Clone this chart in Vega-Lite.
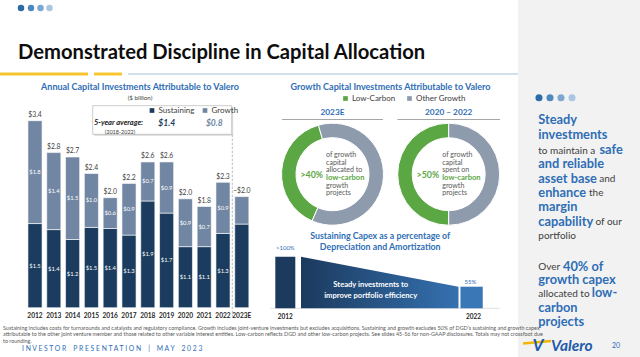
{
  "$schema": "https://vega.github.io/schema/vega-lite/v6.json",
  "width": 640,
  "height": 357,
  "padding": 0,
  "autosize": {"type": "none"},
  "background": "#FFFFFF",
  "config": {"font": "Lato", "view": {"stroke": null}},
  "datasets": {
    "capex": [
      {"year": "2012", "type": "Sustaining", "value": 1.53, "label": "$1.5"},
      {"year": "2012", "type": "Growth", "value": 1.87, "label": "$1.8", "total": "$3.4"},
      {"year": "2013", "type": "Sustaining", "value": 1.42, "label": "$1.4"},
      {"year": "2013", "type": "Growth", "value": 1.40, "label": "$1.4", "total": "$2.8"},
      {"year": "2014", "type": "Sustaining", "value": 1.24, "label": "$1.2"},
      {"year": "2014", "type": "Growth", "value": 1.50, "label": "$1.5", "total": "$2.7"},
      {"year": "2015", "type": "Sustaining", "value": 1.46, "label": "$1.5"},
      {"year": "2015", "type": "Growth", "value": 0.98, "label": "$1.0", "total": "$2.4"},
      {"year": "2016", "type": "Sustaining", "value": 1.44, "label": "$1.4"},
      {"year": "2016", "type": "Growth", "value": 0.56, "label": "$0.6", "total": "$2.0"},
      {"year": "2017", "type": "Sustaining", "value": 1.32, "label": "$1.3"},
      {"year": "2017", "type": "Growth", "value": 0.94, "label": "$0.9", "total": "$2.2"},
      {"year": "2018", "type": "Sustaining", "value": 1.94, "label": "$1.9"},
      {"year": "2018", "type": "Growth", "value": 0.71, "label": "$0.7", "total": "$2.6"},
      {"year": "2019", "type": "Sustaining", "value": 1.72, "label": "$1.7"},
      {"year": "2019", "type": "Growth", "value": 0.93, "label": "$0.9", "total": "$2.6"},
      {"year": "2020", "type": "Sustaining", "value": 1.11, "label": "$1.1"},
      {"year": "2020", "type": "Growth", "value": 0.87, "label": "$0.9", "total": "$2.0"},
      {"year": "2021", "type": "Sustaining", "value": 1.11, "label": "$1.1"},
      {"year": "2021", "type": "Growth", "value": 0.73, "label": "$0.7", "total": "$1.8"},
      {"year": "2022", "type": "Sustaining", "value": 1.35, "label": "$1.3"},
      {"year": "2022", "type": "Growth", "value": 0.93, "label": "$0.9", "total": "$2.3"},
      {"year": "2023E", "type": "Sustaining", "value": 1.52, "label": ""},
      {"year": "2023E", "type": "Growth", "value": 0.50, "label": "", "total": "~$2.0"}
    ],
    "growthShare": [
      {"period": "2023E", "segment": "Low-Carbon", "share": 39},
      {"period": "2023E", "segment": "Other Growth", "share": 61},
      {"period": "2020 – 2022", "segment": "Low-Carbon", "share": 50},
      {"period": "2020 – 2022", "segment": "Other Growth", "share": 50}
    ],
    "donutNotes": [
      {"period": "2023E", "pct": ">40%", "desc": "of growth\ncapital\nallocated to", "em": "low-carbon", "desc2": "growth\nprojects"},
      {"period": "2020 – 2022", "pct": ">50%", "desc": "of growth\ncapital\nspent on", "em": "low-carbon", "desc2": "growth\nprojects"}
    ],
    "sustainPct": [
      {"year": 2012, "pct": 131, "label": ">100%"},
      {"year": 2022, "pct": 55, "label": "55%"}
    ]
  },
  "resolve": {"scale": {"x": "independent", "y": "independent", "color": "independent", "theta": "independent"}},
  "layer": [
    {
      "data": {"values": [{}]},
      "layer": [
        {"mark": {"type": "rect", "color": "#F2F2F2"}, "encoding": {"x": {"datum": 518, "type": "quantitative", "scale": {"domain": [0, 640], "nice": false, "zero": false}, "axis": null}, "x2": {"datum": 640}, "y": {"datum": 0, "type": "quantitative", "scale": {"domain": [357, 0], "nice": false, "zero": false}, "axis": null}, "y2": {"datum": 357}}},
        {"mark": {"type": "point", "filled": true, "size": 42, "opacity": 1, "color": "#2B6CA8"}, "encoding": {"x": {"datum": 21, "type": "quantitative", "axis": null}, "y": {"datum": 8, "type": "quantitative", "axis": null}}},
        {"mark": {"type": "point", "filled": true, "size": 42, "opacity": 1, "color": "#4F88BF"}, "encoding": {"x": {"datum": 31, "type": "quantitative", "axis": null}, "y": {"datum": 8, "type": "quantitative", "axis": null}}},
        {"mark": {"type": "point", "filled": true, "size": 42, "opacity": 1, "color": "#7DA7D1"}, "encoding": {"x": {"datum": 40.5, "type": "quantitative", "axis": null}, "y": {"datum": 8, "type": "quantitative", "axis": null}}},
        {"mark": {"type": "point", "filled": true, "size": 42, "opacity": 1, "color": "#AAC6E2"}, "encoding": {"x": {"datum": 49.5, "type": "quantitative", "axis": null}, "y": {"datum": 8, "type": "quantitative", "axis": null}}},
        {"mark": {"type": "rule", "color": "#F6C631", "strokeWidth": 3}, "encoding": {"x": {"datum": 0, "type": "quantitative", "axis": null}, "x2": {"datum": 88}, "y": {"datum": 74, "type": "quantitative", "axis": null}}},
        {"mark": {"type": "rule", "color": "#F6C631", "strokeWidth": 3}, "encoding": {"x": {"datum": 94, "type": "quantitative", "axis": null}, "x2": {"datum": 122}, "y": {"datum": 74, "type": "quantitative", "axis": null}}},
        {"mark": {"type": "rule", "color": "#C6D5E6", "strokeWidth": 1.5}, "encoding": {"x": {"datum": 128, "type": "quantitative", "axis": null}, "x2": {"datum": 518}, "y": {"datum": 74, "type": "quantitative", "axis": null}}},
        {"mark": {"type": "text", "text": "Demonstrated Discipline in Capital Allocation", "align": "left", "baseline": "alphabetic", "fontSize": 20.2, "fontWeight": "bold", "color": "#0D0D0D"}, "encoding": {"x": {"datum": 18, "type": "quantitative", "axis": null}, "y": {"datum": 59.3, "type": "quantitative", "axis": null}}},
        {"mark": {"type": "text", "text": "Annual Capital Investments Attributable to Valero", "align": "center", "baseline": "middle", "fontSize": 9, "fontWeight": "bold", "color": "#2F6EB5"}, "encoding": {"x": {"datum": 140, "type": "quantitative", "axis": null}, "y": {"datum": 87.3, "type": "quantitative", "axis": null}}},
        {"mark": {"type": "text", "text": "($ billion)", "align": "center", "baseline": "middle", "fontSize": 6.2, "color": "#404040"}, "encoding": {"x": {"datum": 140, "type": "quantitative", "axis": null}, "y": {"datum": 97.7, "type": "quantitative", "axis": null}}},
        {"mark": {"type": "rect", "color": "#DADADA"}, "encoding": {"x": {"datum": 94.2, "type": "quantitative", "axis": null}, "x2": {"datum": 233.2}, "y": {"datum": 107.2, "type": "quantitative", "axis": null}, "y2": {"datum": 135.8}}},
        {"mark": {"type": "rect", "fill": "#FFFFFF", "stroke": "#BFBFBF", "strokeWidth": 0.8}, "encoding": {"x": {"datum": 92.7, "type": "quantitative", "axis": null}, "x2": {"datum": 231.7}, "y": {"datum": 105.7, "type": "quantitative", "axis": null}, "y2": {"datum": 134.3}}},
        {"mark": {"type": "text", "text": "5-year average:", "align": "left", "baseline": "middle", "fontSize": 7.5, "fontWeight": "bold", "fontStyle": "italic", "color": "#1A1A1A"}, "encoding": {"x": {"datum": 94, "type": "quantitative", "axis": null}, "y": {"datum": 123.3, "type": "quantitative", "axis": null}}},
        {"mark": {"type": "text", "text": "$1.4", "align": "center", "baseline": "middle", "fontSize": 8.5, "fontWeight": "bold", "fontStyle": "italic", "color": "#1B3C5E"}, "encoding": {"x": {"datum": 166.7, "type": "quantitative", "axis": null}, "y": {"datum": 123.3, "type": "quantitative", "axis": null}}},
        {"mark": {"type": "text", "text": "$0.8", "align": "center", "baseline": "middle", "fontSize": 8.5, "fontWeight": "bold", "fontStyle": "italic", "color": "#7186A2"}, "encoding": {"x": {"datum": 214.3, "type": "quantitative", "axis": null}, "y": {"datum": 123.3, "type": "quantitative", "axis": null}}},
        {"mark": {"type": "text", "text": "(2018-2022)", "align": "center", "baseline": "middle", "fontSize": 5.5, "color": "#404040"}, "encoding": {"x": {"datum": 120, "type": "quantitative", "axis": null}, "y": {"datum": 131.7, "type": "quantitative", "axis": null}}},
        {"mark": {"type": "rule", "color": "#BFBFBF", "strokeWidth": 1, "strokeDash": [2.5, 1.5]}, "encoding": {"x": {"datum": 232.3, "type": "quantitative", "axis": null}, "y": {"datum": 134.5, "type": "quantitative", "axis": null}, "y2": {"datum": 317}}},
        {"mark": {"type": "text", "text": "Growth Capital Investments Attributable to Valero", "align": "center", "baseline": "middle", "fontSize": 9, "fontWeight": "bold", "color": "#2F6EB5"}, "encoding": {"x": {"datum": 390.5, "type": "quantitative", "axis": null}, "y": {"datum": 87.3, "type": "quantitative", "axis": null}}},
        {"mark": {"type": "rule", "color": "#A6A6A6", "strokeWidth": 1.2}, "encoding": {"x": {"datum": 282, "type": "quantitative", "axis": null}, "x2": {"datum": 383}, "y": {"datum": 119.5, "type": "quantitative", "axis": null}}},
        {"mark": {"type": "rule", "color": "#A6A6A6", "strokeWidth": 1.2}, "encoding": {"x": {"datum": 397.5, "type": "quantitative", "axis": null}, "x2": {"datum": 500}, "y": {"datum": 119.5, "type": "quantitative", "axis": null}}},
        {"mark": {"type": "text", "text": "Sustaining Capex as a percentage of\nDepreciation and Amortization", "lineBreak": "\n", "lineHeight": 11, "align": "center", "baseline": "middle", "fontSize": 8.8, "fontWeight": "bold", "color": "#2F6EB5"}, "encoding": {"x": {"datum": 380.2, "type": "quantitative", "axis": null}, "y": {"datum": 235.7, "type": "quantitative", "axis": null}}},
        {"mark": {"type": "point", "filled": true, "size": 50, "opacity": 1, "color": "#2B6CA8"}, "encoding": {"x": {"datum": 539, "type": "quantitative", "axis": null}, "y": {"datum": 97.7, "type": "quantitative", "axis": null}}},
        {"mark": {"type": "point", "filled": true, "size": 50, "opacity": 1, "color": "#4F88BF"}, "encoding": {"x": {"datum": 550, "type": "quantitative", "axis": null}, "y": {"datum": 97.7, "type": "quantitative", "axis": null}}},
        {"mark": {"type": "point", "filled": true, "size": 50, "opacity": 1, "color": "#7DA7D1"}, "encoding": {"x": {"datum": 561, "type": "quantitative", "axis": null}, "y": {"datum": 97.7, "type": "quantitative", "axis": null}}},
        {"mark": {"type": "point", "filled": true, "size": 50, "opacity": 1, "color": "#AAC6E2"}, "encoding": {"x": {"datum": 572, "type": "quantitative", "axis": null}, "y": {"datum": 97.7, "type": "quantitative", "axis": null}}},
        {"mark": {"type": "text", "text": "Steady\ninvestments", "lineBreak": "\n", "lineHeight": 14.53, "align": "left", "baseline": "middle", "fontSize": 12.8, "fontWeight": "bold", "color": "#2F6EB5"}, "encoding": {"x": {"datum": 538.3, "type": "quantitative", "axis": null}, "y": {"datum": 120, "type": "quantitative", "axis": null}}},
        {"mark": {"type": "text", "text": "and reliable\nasset base\nenhance\nmargin\ncapability", "lineBreak": "\n", "lineHeight": 14.4, "align": "left", "baseline": "middle", "fontSize": 12.8, "fontWeight": "bold", "color": "#2F6EB5"}, "encoding": {"x": {"datum": 538.3, "type": "quantitative", "axis": null}, "y": {"datum": 164.3, "type": "quantitative", "axis": null}}},
        {"mark": {"type": "text", "text": "safe", "align": "left", "baseline": "middle", "fontSize": 12.8, "fontWeight": "bold", "color": "#2F6EB5"}, "encoding": {"x": {"datum": 599.5, "type": "quantitative", "axis": null}, "y": {"datum": 150, "type": "quantitative", "axis": null}}},
        {"mark": {"type": "text", "text": "40% of", "align": "left", "baseline": "middle", "fontSize": 12.8, "fontWeight": "bold", "color": "#2F6EB5"}, "encoding": {"x": {"datum": 563, "type": "quantitative", "axis": null}, "y": {"datum": 266.7, "type": "quantitative", "axis": null}}},
        {"mark": {"type": "text", "text": "growth capex", "align": "left", "baseline": "middle", "fontSize": 12.8, "fontWeight": "bold", "color": "#2F6EB5"}, "encoding": {"x": {"datum": 538.3, "type": "quantitative", "axis": null}, "y": {"datum": 279.5, "type": "quantitative", "axis": null}}},
        {"mark": {"type": "text", "text": "carbon\nprojects", "lineBreak": "\n", "lineHeight": 14.6, "align": "left", "baseline": "middle", "fontSize": 12.8, "fontWeight": "bold", "color": "#2F6EB5"}, "encoding": {"x": {"datum": 538.3, "type": "quantitative", "axis": null}, "y": {"datum": 307.7, "type": "quantitative", "axis": null}}},
        {"mark": {"type": "text", "text": "low-", "align": "left", "baseline": "middle", "fontSize": 12.8, "fontWeight": "bold", "color": "#2F6EB5"}, "encoding": {"x": {"datum": 591.7, "type": "quantitative", "axis": null}, "y": {"datum": 293.3, "type": "quantitative", "axis": null}}},
        {"mark": {"type": "text", "text": "to maintain a", "align": "left", "baseline": "middle", "fontSize": 10, "color": "#404040"}, "encoding": {"x": {"datum": 538.3, "type": "quantitative", "axis": null}, "y": {"datum": 150.5, "type": "quantitative", "axis": null}}},
        {"mark": {"type": "text", "text": "and", "align": "left", "baseline": "middle", "fontSize": 10, "color": "#404040"}, "encoding": {"x": {"datum": 599.3, "type": "quantitative", "axis": null}, "y": {"datum": 178.8, "type": "quantitative", "axis": null}}},
        {"mark": {"type": "text", "text": "the", "align": "left", "baseline": "middle", "fontSize": 10, "color": "#404040"}, "encoding": {"x": {"datum": 589, "type": "quantitative", "axis": null}, "y": {"datum": 193.2, "type": "quantitative", "axis": null}}},
        {"mark": {"type": "text", "text": "of our", "align": "left", "baseline": "middle", "fontSize": 10, "color": "#404040"}, "encoding": {"x": {"datum": 595.5, "type": "quantitative", "axis": null}, "y": {"datum": 222.2, "type": "quantitative", "axis": null}}},
        {"mark": {"type": "text", "text": "portfolio", "align": "left", "baseline": "middle", "fontSize": 10, "color": "#404040"}, "encoding": {"x": {"datum": 538.3, "type": "quantitative", "axis": null}, "y": {"datum": 236, "type": "quantitative", "axis": null}}},
        {"mark": {"type": "text", "text": "Over", "align": "left", "baseline": "middle", "fontSize": 10, "color": "#404040"}, "encoding": {"x": {"datum": 538.3, "type": "quantitative", "axis": null}, "y": {"datum": 267.2, "type": "quantitative", "axis": null}}},
        {"mark": {"type": "text", "text": "allocated to", "align": "left", "baseline": "middle", "fontSize": 10, "color": "#404040"}, "encoding": {"x": {"datum": 538.3, "type": "quantitative", "axis": null}, "y": {"datum": 293.8, "type": "quantitative", "axis": null}}},
        {"mark": {"type": "text", "text": "Sustaining includes costs for turnarounds and catalysts and regulatory compliance. Growth includes joint-venture investments but excludes acquisitions. Sustaining and growth excludes 50% of DGD’s sustaining and growth capex\nattributable to the other joint venture member and those related to other variable interest entities. Low-carbon reflects DGD and other low-carbon projects. See slides 45-56 for non-GAAP disclosures. Totals may not crossfoot due\nto rounding.", "lineBreak": "\n", "lineHeight": 6.6, "align": "left", "baseline": "middle", "fontSize": 5.4, "color": "#595959"}, "encoding": {"x": {"datum": 3, "type": "quantitative", "axis": null}, "y": {"datum": 327.5, "type": "quantitative", "axis": null}}},
        {"mark": {"type": "text", "text": "I N V E S T O R \u00a0\u00a0 P R E S E N T A T I O N \u00a0\u00a0 | \u00a0\u00a0 M A Y \u00a0\u00a0 2 0 2 3", "align": "left", "baseline": "middle", "fontSize": 6.8, "color": "#2F6EB5"}, "encoding": {"x": {"datum": 22, "type": "quantitative", "axis": null}, "y": {"datum": 348.5, "type": "quantitative", "axis": null}}},
        {"mark": {"type": "rule", "color": "#F2B705", "strokeWidth": 2.5}, "encoding": {"x": {"datum": 523, "type": "quantitative", "axis": null}, "x2": {"datum": 551}, "y": {"datum": 343.5, "type": "quantitative", "axis": null}, "y2": {"datum": 341}}},
        {"mark": {"type": "text", "text": "V", "align": "center", "baseline": "middle", "fontSize": 17, "fontWeight": "bold", "fontStyle": "italic", "color": "#1F5BAA"}, "encoding": {"x": {"datum": 538, "type": "quantitative", "axis": null}, "y": {"datum": 345.5, "type": "quantitative", "axis": null}}},
        {"mark": {"type": "text", "text": "Valero", "align": "left", "baseline": "middle", "fontSize": 15.5, "fontWeight": "bold", "fontStyle": "italic", "color": "#1F5BAA"}, "encoding": {"x": {"datum": 551, "type": "quantitative", "axis": null}, "y": {"datum": 345.5, "type": "quantitative", "axis": null}}},
        {"mark": {"type": "text", "text": "20", "align": "left", "baseline": "middle", "fontSize": 7, "color": "#2F6EB5"}, "encoding": {"x": {"datum": 612, "type": "quantitative", "axis": null}, "y": {"datum": 345.5, "type": "quantitative", "axis": null}}}
      ]
    },
    {
      "data": {"name": "capex"},
      "transform": [
        {"stack": "value", "groupby": ["year"], "sort": [{"field": "type", "order": "descending"}], "as": ["v0", "v1"]},
        {"calculate": "(datum.v0 + datum.v1) / 2", "as": "vmid"}
      ],
      "layer": [
        {
          "mark": {"type": "bar", "stroke": "#FFFFFF", "strokeWidth": 0.6},
          "encoding": {
            "x": {"field": "year", "type": "ordinal", "sort": null, "scale": {"range": [27.95, 248.85], "paddingInner": 0.25, "paddingOuter": 0, "round": false}, "axis": null},
            "y": {"field": "v0", "type": "quantitative", "scale": {"domain": [-0.8964, 5.5945], "nice": false, "zero": false}, "axis": null},
            "y2": {"field": "v1"},
            "color": {"field": "type", "type": "nominal", "scale": {"domain": ["Sustaining", "Growth"], "range": ["#1B3C5E", "#7186A2"]}, "legend": {"orient": "none", "legendX": 148, "legendY": 106.5, "direction": "horizontal", "title": null, "symbolType": "square", "symbolSize": 22, "symbolStrokeWidth": 0, "labelFontSize": 8, "labelColor": "#404040", "labelOffset": 2.5, "columnPadding": 6, "padding": 0}}
          }
        },
        {
          "mark": {"type": "text", "color": "#FFFFFF", "fontSize": 5.8, "baseline": "middle"},
          "encoding": {
            "x": {"field": "year", "type": "ordinal", "sort": null, "axis": null},
            "y": {"field": "vmid", "type": "quantitative", "axis": null},
            "text": {"field": "label"}
          }
        },
        {
          "transform": [{"filter": "datum.type === 'Growth'"}],
          "mark": {"type": "text", "color": "#404040", "fontSize": 6.8, "baseline": "bottom", "dy": -2.5},
          "encoding": {
            "x": {"field": "year", "type": "ordinal", "sort": null, "axis": null},
            "y": {"field": "v1", "type": "quantitative", "axis": null},
            "text": {"field": "total"}
          }
        },
        {
          "transform": [{"filter": "datum.type === 'Sustaining'"}],
          "mark": {"type": "text", "color": "#262626", "fontSize": 6.6, "fontWeight": "bold", "baseline": "middle"},
          "encoding": {
            "x": {"field": "year", "type": "ordinal", "sort": null, "axis": null},
            "y": {"datum": -0.15, "type": "quantitative", "axis": null},
            "text": {"field": "year"}
          }
        }
      ]
    },
    {
      "data": {"name": "growthShare"},
      "resolve": {"scale": {"theta": "independent"}},
      "layer": [
        {
          "transform": [{"filter": "datum.period === '2023E'"}],
          "mark": {"type": "arc", "radius": 51, "radius2": 36.5, "yOffset": -4.3, "stroke": "#FFFFFF", "strokeWidth": 1},
          "encoding": {
            "x": {"field": "period", "type": "nominal", "scale": {"type": "point", "domain": ["2023E", "2020 – 2022"], "range": [332.5, 448.7], "padding": 0}, "axis": null},
            "theta": {"field": "share", "type": "quantitative", "stack": true, "scale": {"range": [3.5535, 9.8367]}},
            "color": {"field": "segment", "type": "nominal", "scale": {"domain": ["Low-Carbon", "Other Growth"], "range": ["#5BA744", "#8E9BAD"]}, "legend": {"orient": "none", "legendX": 341.5, "legendY": 94.5, "direction": "horizontal", "title": null, "symbolType": "square", "symbolSize": 22, "symbolStrokeWidth": 0, "labelFontSize": 8, "labelColor": "#404040", "labelOffset": 2.5, "columnPadding": 10, "padding": 0}},
            "order": {"field": "segment", "sort": "ascending"}
          }
        },
        {
          "transform": [{"filter": "datum.period === '2020 – 2022'"}],
          "mark": {"type": "arc", "radius": 51, "radius2": 36.5, "yOffset": -4.3, "stroke": "#FFFFFF", "strokeWidth": 1},
          "encoding": {
            "x": {"field": "period", "type": "nominal", "axis": null},
            "theta": {"field": "share", "type": "quantitative", "stack": true, "scale": {"range": [3.14159, 9.42478]}},
            "color": {"field": "segment", "type": "nominal", "legend": {"orient": "none", "legendX": 341.5, "legendY": 94.5, "direction": "horizontal", "title": null, "symbolType": "square", "symbolSize": 22, "symbolStrokeWidth": 0, "labelFontSize": 8, "labelColor": "#404040", "labelOffset": 2.5, "columnPadding": 10, "padding": 0}},
            "order": {"field": "segment", "sort": "ascending"}
          }
        },
        {
          "data": {"name": "donutNotes"},
          "mark": {"type": "text", "fontSize": 8.3, "fontWeight": "bold", "color": "#2F6EB5", "dy": -65.8, "align": "center", "baseline": "middle"},
          "encoding": {"x": {"field": "period", "type": "nominal", "axis": null}, "text": {"field": "period"}}
        },
        {
          "data": {"name": "donutNotes"},
          "mark": {"type": "text", "fontSize": 8.8, "fontWeight": "bold", "color": "#5BA744", "dx": -20.8, "dy": -3.5, "align": "center", "baseline": "middle"},
          "encoding": {"x": {"field": "period", "type": "nominal", "axis": null}, "text": {"field": "pct"}}
        },
        {
          "data": {"name": "donutNotes"},
          "mark": {"type": "text", "fontSize": 7.1, "color": "#595959", "dx": -6.5, "dy": -23.5, "align": "left", "baseline": "middle", "lineBreak": "\n", "lineHeight": 7.65},
          "encoding": {"x": {"field": "period", "type": "nominal", "axis": null}, "text": {"field": "desc"}}
        },
        {
          "data": {"name": "donutNotes"},
          "mark": {"type": "text", "fontSize": 7.1, "color": "#595959", "dx": -6.5, "dy": 7.1, "align": "left", "baseline": "middle", "lineBreak": "\n", "lineHeight": 7.65},
          "encoding": {"x": {"field": "period", "type": "nominal", "axis": null}, "text": {"field": "desc2"}}
        },
        {
          "data": {"name": "donutNotes"},
          "mark": {"type": "text", "fontSize": 7.6, "fontWeight": "bold", "color": "#5BA744", "dx": -6.5, "dy": -0.8, "align": "left", "baseline": "middle"},
          "encoding": {"x": {"field": "period", "type": "nominal", "axis": null}, "text": {"field": "em"}}
        }
      ]
    },
    {
      "data": {"name": "sustainPct"},
      "layer": [
        {
          "data": {"values": [{}]},
          "mark": {"type": "rule", "color": "#D9D9D9", "strokeWidth": 0.8},
          "encoding": {
            "x": {"datum": 2010.05, "type": "quantitative", "scale": {"domain": [1993.206, 2033.206], "nice": false, "zero": false}, "axis": null},
            "x2": {"datum": 2024.6},
            "y": {"datum": 0, "type": "quantitative", "scale": {"domain": [-124, 785.1], "nice": false, "zero": false}, "axis": null}
          }
        },
        {
          "mark": {"type": "area", "color": {"gradient": "linear", "x1": 0, "y1": 0, "x2": 1, "y2": 0, "stops": [{"offset": 0, "color": "#1B3A5E"}, {"offset": 1, "color": "#3571B0"}]}},
          "encoding": {
            "x": {"field": "year", "type": "quantitative", "axis": null},
            "y": {"field": "pct", "type": "quantitative", "axis": null}
          }
        },
        {
          "transform": [{"filter": "datum.year === 2012"}],
          "layer": [
            {"mark": {"type": "bar", "width": 20, "xOffset": -15.7, "color": "#1B3A5E"}, "encoding": {"x": {"field": "year", "type": "quantitative", "axis": null}, "y": {"field": "pct", "type": "quantitative", "axis": null}}},
            {"mark": {"type": "text", "dx": -15.7, "dy": -8.4, "baseline": "middle", "fontSize": 6, "color": "#2F6EB5"}, "encoding": {"x": {"field": "year", "type": "quantitative", "axis": null}, "y": {"field": "pct", "type": "quantitative", "axis": null}, "text": {"field": "label"}}},
            {"mark": {"type": "text", "dx": -15.7, "dy": 9, "baseline": "middle", "fontSize": 6.5, "fontWeight": "bold", "color": "#262626"}, "encoding": {"x": {"field": "year", "type": "quantitative", "axis": null}, "y": {"datum": 0, "type": "quantitative", "axis": null}, "text": {"field": "year", "type": "ordinal"}}}
          ]
        },
        {
          "transform": [{"filter": "datum.year === 2022"}],
          "layer": [
            {"mark": {"type": "bar", "width": 22.3, "xOffset": 13.1, "color": "#3A77B6"}, "encoding": {"x": {"field": "year", "type": "quantitative", "axis": null}, "y": {"field": "pct", "type": "quantitative", "axis": null}}},
            {"mark": {"type": "text", "dx": 12, "dy": -5, "baseline": "middle", "fontSize": 6, "color": "#2F6EB5"}, "encoding": {"x": {"field": "year", "type": "quantitative", "axis": null}, "y": {"field": "pct", "type": "quantitative", "axis": null}, "text": {"field": "label"}}},
            {"mark": {"type": "text", "dx": 15, "dy": 9, "baseline": "middle", "fontSize": 6.5, "fontWeight": "bold", "color": "#262626"}, "encoding": {"x": {"field": "year", "type": "quantitative", "axis": null}, "y": {"datum": 0, "type": "quantitative", "axis": null}, "text": {"field": "year", "type": "ordinal"}}}
          ]
        },
        {
          "data": {"values": [{}]},
          "mark": {"type": "text", "text": "Steady investments to\nimprove portfolio efficiency", "lineBreak": "\n", "lineHeight": 10.5, "align": "center", "baseline": "middle", "fontSize": 7.6, "fontWeight": "bold", "color": "#FFFFFF"},
          "encoding": {
            "x": {"datum": 2016.425, "type": "quantitative", "axis": null},
            "y": {"datum": 59.3, "type": "quantitative", "axis": null}
          }
        }
      ]
    }
  ]
}
